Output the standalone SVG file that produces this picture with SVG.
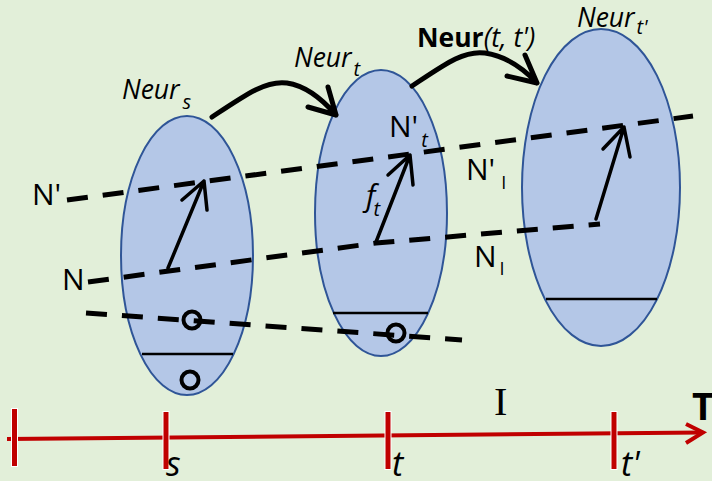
<svg xmlns="http://www.w3.org/2000/svg" width="712" height="481" viewBox="0 0 712 481">
<style>
.ell{fill:#b4c7e7;stroke:#2f5597;stroke-width:2}
.hl{stroke:#000;stroke-width:2.5;fill:none}
.ring{stroke:#000;stroke-width:4;fill:none}
.dash{stroke:#000;stroke-width:5;fill:none;stroke-dasharray:21 15}
.arr{stroke:#000;stroke-width:3.5;fill:none;stroke-linecap:round;stroke-linejoin:round}
.big{stroke:#000;stroke-width:5;fill:none;stroke-linecap:round;stroke-linejoin:round}
.red{stroke:#c00000;stroke-width:4;fill:none}
.tickw{stroke:#fff;stroke-width:7}
.tick{stroke:#c00000;stroke-width:5}
text{font-family:"Open Sans","Noto Sans","Liberation Sans",sans-serif;fill:#000}
.lab{font-size:30px}
.it{font-style:italic}
.sub{font-size:20px;font-style:italic}
.subu{font-size:18px}
.neur{font-size:26.5px;font-style:italic}
.axis{font-size:34px;font-style:italic}
</style>
<rect x="0" y="0" width="712" height="481" fill="#e2efd9"/>

<g id="neur-s">
<ellipse class="ell" cx="187" cy="255.5" rx="66" ry="139.5"/>
<line class="hl" x1="142" y1="354" x2="233" y2="354"/>
<circle class="ring" cx="190" cy="380" r="8.5"/>
</g>
<g id="neur-t">
<ellipse class="ell" cx="381" cy="213" rx="66" ry="143"/>
<line class="hl" x1="333" y1="313" x2="428" y2="313"/>
</g>
<g id="neur-tp">
<ellipse class="ell" cx="601" cy="187.5" rx="79" ry="158.5"/>
<line class="hl" x1="546" y1="299" x2="657" y2="299"/>
</g>

<g id="connectors">
<path class="dash" d="M67,200 L693,116"/>
<path class="dash" d="M88,282 L376,243 L600,224"/>
<path class="dash" d="M86,313 L462,340"/>
<circle class="ring" cx="192" cy="320" r="8.5"/>
<circle class="ring" cx="396" cy="333" r="8.5"/>
<path class="arr" d="M168,268 L204,181 M182,200 L204,181 L207,210"/>
<path class="arr" d="M376,242 L410,155 M388,175 L410,155 L413,185"/>
<path class="arr" d="M596,219 L624,127 M603,149 L624,127 L630,157"/>
<path class="big" d="M212,117 C245,95 266,80 287,83 C307,86 323,100 336,115 M308,107 L336,115 L328,87"/>
<path class="big" d="M412,86 C445,64 464,50 485,53 C505,56 523,68 537,83 M507,76 L537,83 L525,55"/>
</g>

<g id="timeline">
<path class="red" d="M7,439 L702,432.5"/>
<path class="red" d="M686,424 L703,432.5 L686,443" stroke-linejoin="miter"/>
<line class="tickw" x1="14.5" y1="408" x2="14.5" y2="467"/>
<line class="tick" x1="14.5" y1="409" x2="14.5" y2="466"/>
<line class="tickw" x1="166" y1="411" x2="166" y2="470"/>
<line class="tick" x1="166" y1="412" x2="166" y2="469"/>
<line class="tickw" x1="388" y1="411" x2="388" y2="470"/>
<line class="tick" x1="388" y1="412" x2="388" y2="469"/>
<line class="tickw" x1="614" y1="411" x2="614" y2="470"/>
<line class="tick" x1="614" y1="412" x2="614" y2="469"/>
</g>

<g id="labels">
<text class="lab" x="32" y="205">N'</text>
<text class="lab" x="62" y="290">N</text>
<text class="lab" x="389" y="137">N'<tspan class="sub" dx="3" dy="10">t</tspan></text>
<text class="lab it" x="366" y="206">f<tspan class="sub" dx="-2" dy="10">t</tspan></text>
<text class="lab" x="466" y="180">N'<tspan class="subu" dx="6" dy="9">I</tspan></text>
<text class="lab" x="474" y="267">N<tspan class="subu" dx="3" dy="8">I</tspan></text>
<text class="neur" x="122" y="99">Neur<tspan class="sub" dx="3" dy="10">s</tspan></text>
<text class="neur" x="294" y="67">Neur<tspan class="sub" dx="2" dy="9">t</tspan></text>
<text x="417" y="47" style="font-size:26.5px"><tspan font-weight="bold">Neur</tspan><tspan font-style="italic">(t, t')</tspan></text>
<text class="neur" x="577" y="27">Neur<tspan class="sub" dx="2" dy="7">t'</tspan></text>
<text class="axis" x="166" y="476">s</text>
<text class="axis" x="392" y="476">t</text>
<text class="axis" x="621" y="476">t'</text>
<text x="692" y="420" style="font-size:38px;font-weight:bold">T</text>
<text x="494" y="415" style="font-family:'Liberation Serif',serif;font-size:40px">I</text>
</g>
</svg>
